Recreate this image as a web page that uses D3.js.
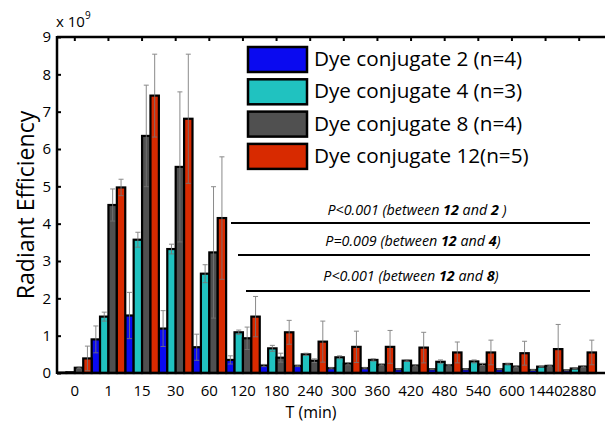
<!DOCTYPE html>
<html><head><meta charset="utf-8">
<script src="https://cdn.jsdelivr.net/npm/d3@7"></script>
<style>
body{margin:0;background:#fff;}
svg{display:block;font-family:"Open Sans",sans-serif;}
</style></head>
<body>
<svg id="c" width="605" height="424"></svg>
<script>
const times = ["0","1","15","30","60","120","180","240","300","360","420","480","540","600","1440","2880"];
const seriesNames = ["Dye conjugate 2 (n=4)","Dye conjugate 4 (n=3)","Dye conjugate 8 (n=4)","Dye conjugate 12(n=5)"];
const dye2  = [0.01,0.90,1.54,1.19,0.69,0.35,0.20,0.19,0.13,0.13,0.10,0.10,0.10,0.10,0.08,0.07];
const err2  = [0,0.36,0.62,0.48,0.35,0.11,0.03,0.02,0.02,0.02,0.01,0.01,0.01,0.01,0.01,0.01];
const dye4  = [0.02,1.51,3.57,3.32,2.66,1.09,0.66,0.50,0.42,0.35,0.33,0.30,0.31,0.24,0.17,0.12];
const err4  = [0,0.12,0.20,0.13,0.24,0.06,0.08,0.03,0.04,0.03,0.02,0.05,0.04,0.02,0.01,0.01];
const dye8  = [0.14,4.50,6.35,5.52,3.23,0.93,0.41,0.33,0.25,0.22,0.20,0.21,0.23,0.17,0.19,0.17];
const err8  = [0.02,0.43,1.36,2.01,1.76,0.30,0.12,0.05,0.03,0.02,0.02,0.02,0.03,0.02,0.02,0.02];
const dye12 = [0.39,4.97,7.43,6.81,4.15,1.51,1.09,0.84,0.70,0.70,0.68,0.55,0.55,0.53,0.64,0.55];
const err12 = [0.33,0.22,1.11,1.73,1.64,0.54,0.32,0.55,0.42,0.44,0.41,0.28,0.33,0.32,0.66,0.33];
const yTicks = [0,1,2,3,4,5,6,7,8,9];
const colors = ["#0a0af0","#20c2c0","#505050","#d82a00"];
const pLabels = [
  [{t:"P<0.001 (between ",b:false},{t:"12",b:true},{t:" and ",b:false},{t:"2",b:true},{t:" )",b:false}],
  [{t:"P=0.009 (between ",b:false},{t:"12",b:true},{t:" and ",b:false},{t:"4",b:true},{t:")",b:false}],
  [{t:"P<0.001 (between ",b:false},{t:"12",b:true},{t:" and ",b:false},{t:"8",b:true},{t:")",b:false}]
];

const values = [dye2,dye4,dye8,dye12];
const errs = [err2,err4,err8,err12];
const svg = d3.select("#c");
const L=57, R=605, T=37, B=373;
const x = d3.scaleBand().domain(times).range([58,596]).padding(0);
const xs = d3.scaleBand().domain([0,1,2,3]).range([0,x.bandwidth()]).padding(0);
const y = d3.scaleLinear().domain([0,9]).range([B,T]);

const g = svg.append("g");
values.forEach((vals,si)=>{
  g.selectAll(null).data(vals).enter().append("rect")
    .attr("x",(d,i)=>x(times[i])+xs(si))
    .attr("width",xs.bandwidth())
    .attr("y",d=>y(d))
    .attr("height",d=>y(0)-y(d))
    .attr("fill",colors[si])
    .attr("stroke","#000").attr("stroke-width",2.2);
});
values.forEach((vals,si)=>{
  vals.forEach((v,i)=>{
    const e=errs[si][i]; if(e<=0) return;
    const cx=x(times[i])+xs(si)+xs.bandwidth()/2;
    const eg=g.append("g").attr("stroke","#777").attr("stroke-width",1).attr("opacity",0.85);
    eg.append("line").attr("x1",cx).attr("x2",cx).attr("y1",y(v-e)).attr("y2",y(v+e));
    eg.append("line").attr("x1",cx-2.5).attr("x2",cx+2.5).attr("y1",y(v+e)).attr("y2",y(v+e));
    eg.append("line").attr("x1",cx-2.5).attr("x2",cx+2.5).attr("y1",y(Math.max(0,v-e))).attr("y2",y(Math.max(0,v-e)));
  });
});

const yAxis = d3.axisLeft(y).tickValues(yTicks).tickSize(-4).tickPadding(6).tickFormat(d3.format("d"));
const ya = svg.append("g").attr("transform",`translate(${L},0)`).call(yAxis);
ya.select(".domain").remove();
ya.selectAll(".tick line").attr("stroke","#000").attr("stroke-width",2);
ya.selectAll("text").attr("font-size",15).attr("fill","#000").attr("font-family","Open Sans");

const xAxis = d3.axisBottom(x).tickSize(0).tickPadding(12);
const xa = svg.append("g").attr("transform",`translate(0,${B})`).call(xAxis);
xa.select(".domain").remove();
xa.selectAll("text").attr("font-size",15).attr("fill","#000").attr("font-family","Open Sans");

const xTop = d3.axisTop(x).tickSize(-4).tickFormat("");
const xt = svg.append("g").attr("transform",`translate(0,${T})`).call(xTop);
xt.select(".domain").remove();
xt.selectAll(".tick line").attr("stroke","#000").attr("stroke-width",2);

svg.append("line").attr("x1",L).attr("x2",R).attr("y1",T).attr("y2",T).attr("stroke","#000").attr("stroke-width",2.5);
svg.append("line").attr("x1",L).attr("x2",R).attr("y1",B).attr("y2",B).attr("stroke","#000").attr("stroke-width",2.5);
svg.append("line").attr("x1",L).attr("x2",L).attr("y1",T-1).attr("y2",B+1).attr("stroke","#000").attr("stroke-width",2.5);

const ex = svg.append("text").attr("x",56).attr("y",27).attr("font-size",15).attr("fill","#000");
ex.append("tspan").text("x 10");
ex.append("tspan").attr("dy",-8).attr("font-size",10).text("9");

svg.append("text").attr("transform",`translate(34,205) rotate(-90)`).attr("text-anchor","middle")
  .attr("font-size",23).attr("fill","#000").text("Radiant Efficiency");
svg.append("text").attr("x",311).attr("y",418).attr("text-anchor","middle")
  .attr("font-size",16).attr("fill","#000").text("T (min)");

const lg = svg.append("g");
seriesNames.forEach((n,i)=>{
  const yy = 47 + i*32.3;
  lg.append("rect").attr("x",248).attr("y",yy).attr("width",59).attr("height",25)
    .attr("fill",colors[i]).attr("stroke","#000").attr("stroke-width",2.5);
  lg.append("text").attr("x",314).attr("y",yy+19).attr("font-size",20.7).attr("fill","#000").text(n);
});

const pLines = [[231,223],[238,255],[246,291]];
const pText = [[417,215],[413,246],[411,281]];
pLabels.forEach((parts,i)=>{
  svg.append("line").attr("x1",pLines[i][0]).attr("x2",590).attr("y1",pLines[i][1]).attr("y2",pLines[i][1])
    .attr("stroke","#000").attr("stroke-width",2);
  const t = svg.append("text").attr("x",pText[i][0]).attr("y",pText[i][1]).attr("text-anchor","middle")
    .attr("font-size",14.3).attr("font-style","italic").attr("fill","#000");
  parts.forEach(p=>t.append("tspan").attr("font-weight",p.b?"bold":"normal").text(p.t));
});
</script>
</body></html>
